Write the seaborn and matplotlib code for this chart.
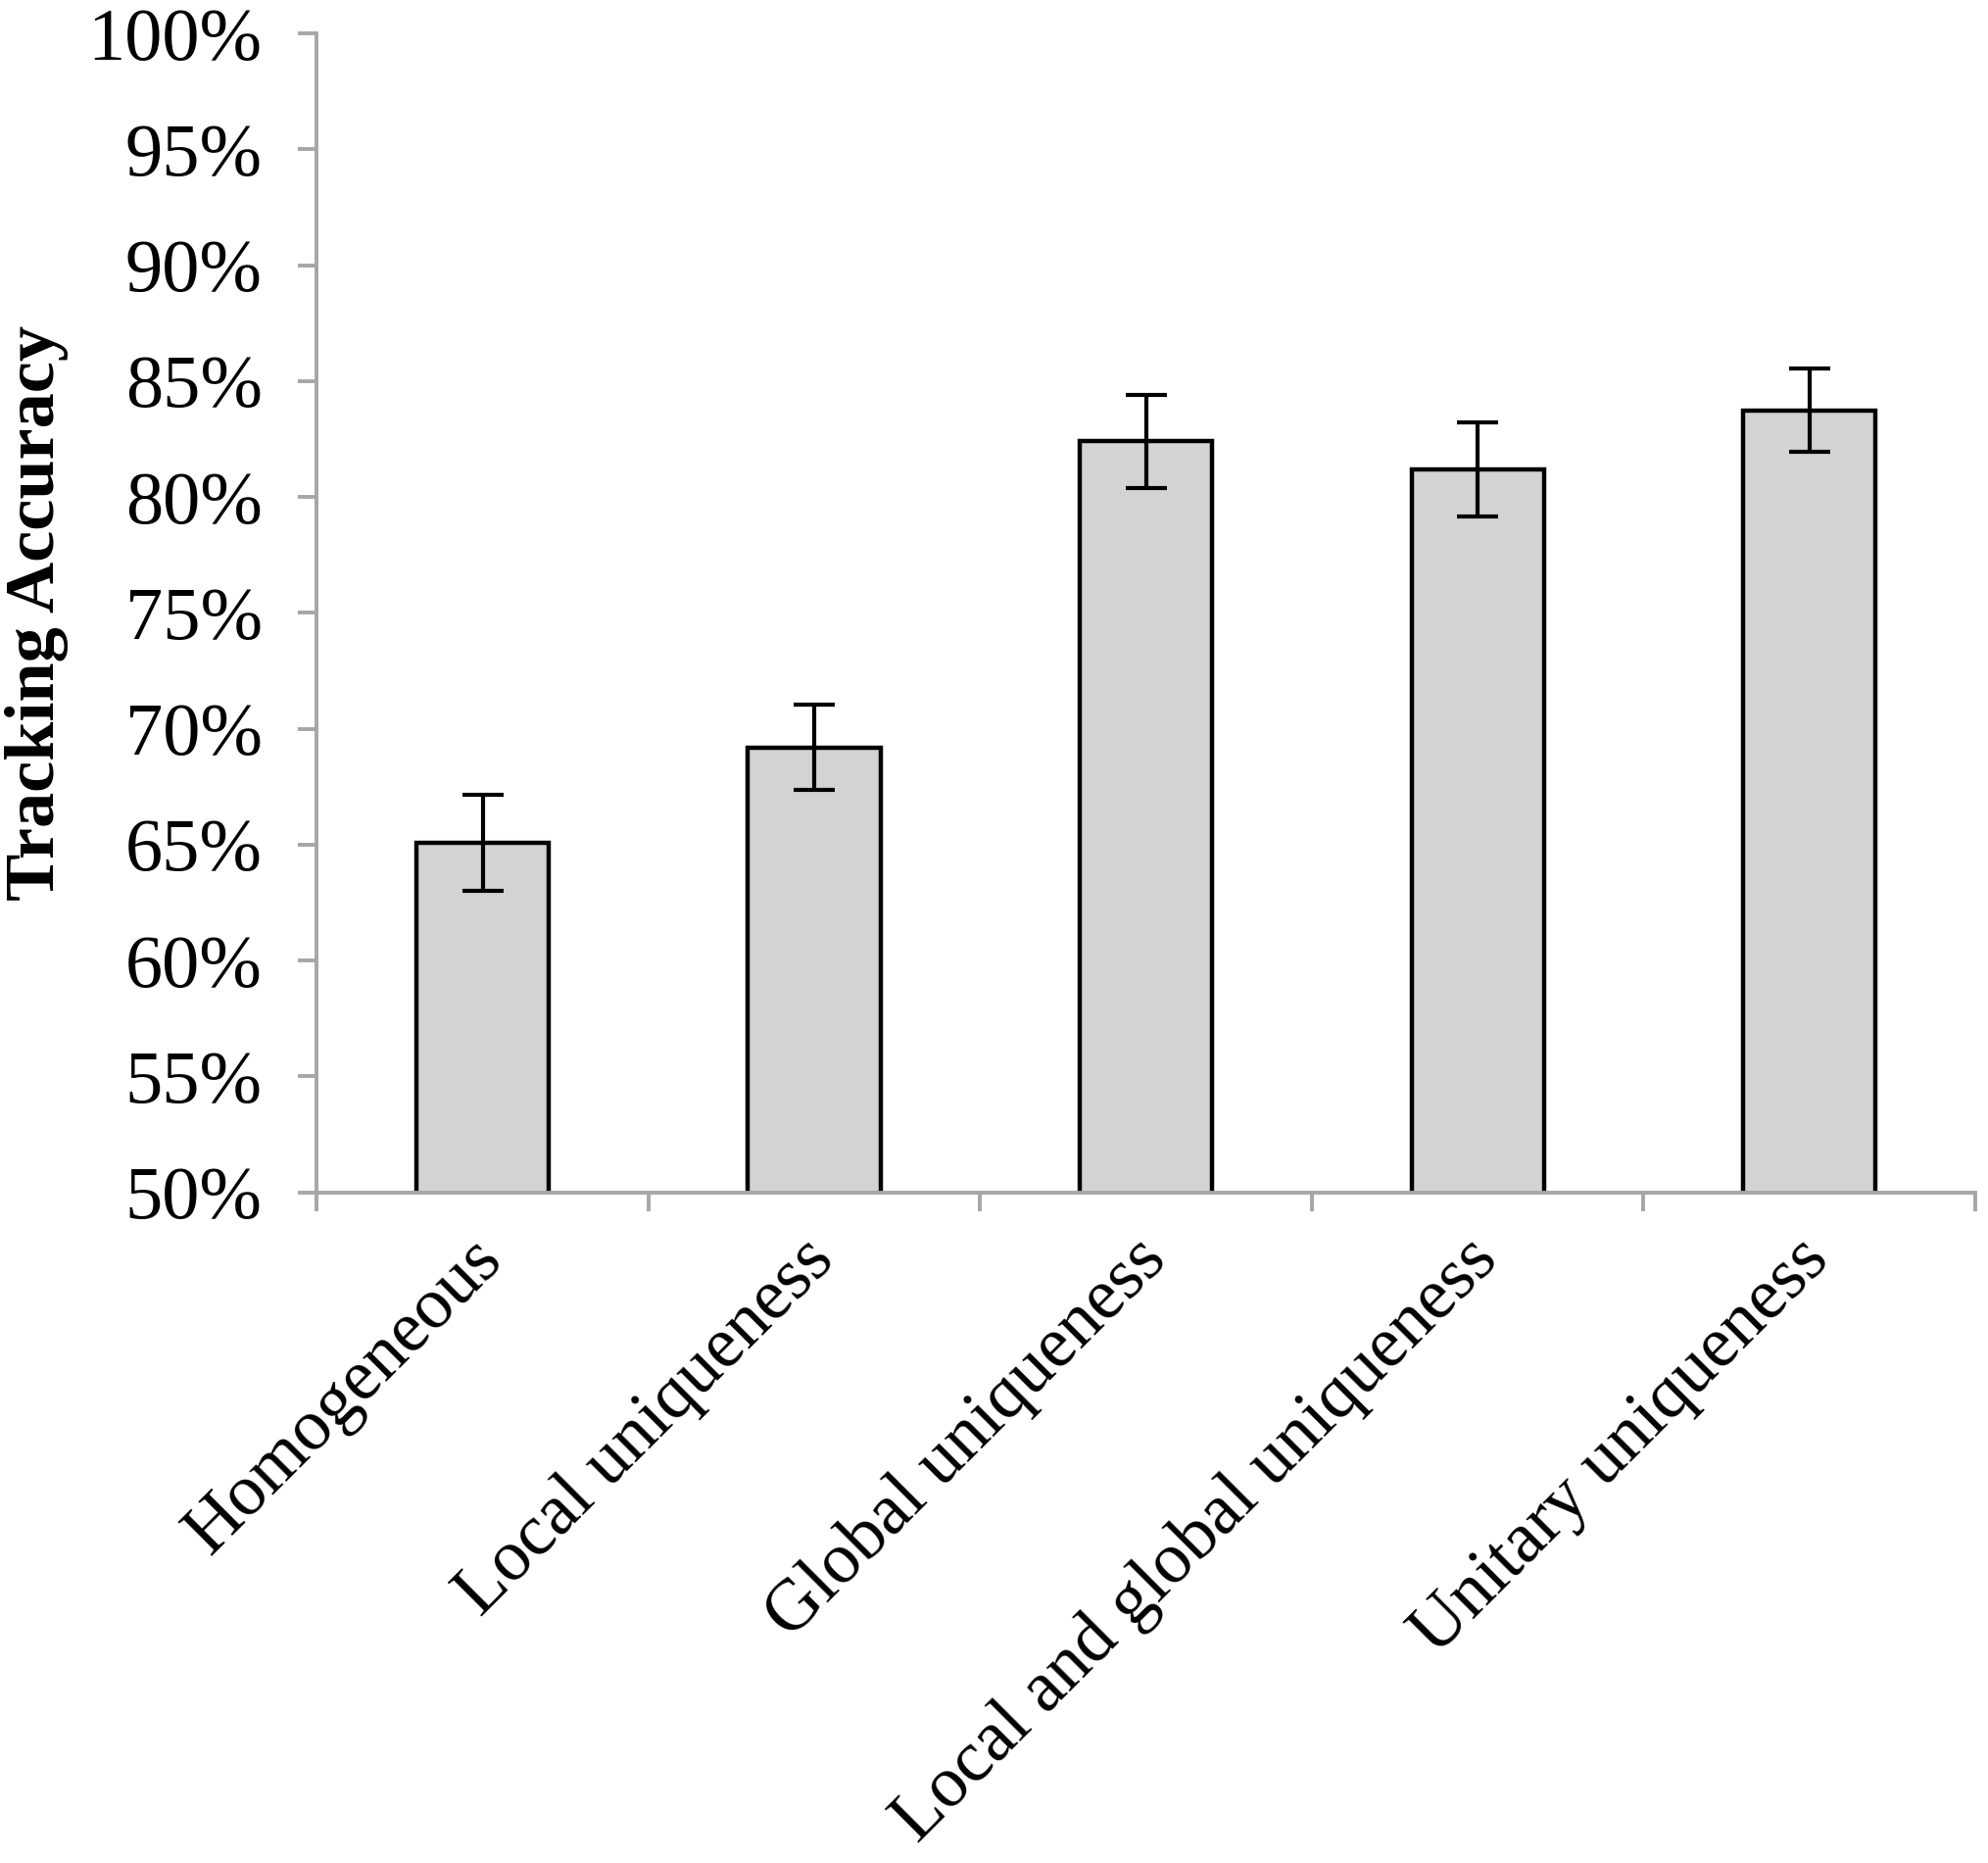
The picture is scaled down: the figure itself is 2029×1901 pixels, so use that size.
import matplotlib

matplotlib.use("Agg")
import matplotlib.pyplot as plt
from matplotlib.ticker import FuncFormatter, MultipleLocator
from matplotlib.transforms import ScaledTranslation
import pandas as pd
import seaborn as sns

conditions = [
    "Homogeneous",
    "Local uniqueness",
    "Global uniqueness",
    "Local and global uniqueness",
    "Unitary uniqueness",
]
accuracy = [65.1, 69.2, 82.4, 81.2, 83.75]
error = [2.07, 1.85, 2.02, 2.02, 1.79]

df = pd.DataFrame({"condition": conditions, "accuracy": accuracy, "error": error})

sns.set_style("white")
plt.rcParams["font.family"] = ["Liberation Serif", "DejaVu Serif"]
plt.rcParams["text.color"] = "black"
plt.rcParams["xtick.labelcolor"] = "black"
plt.rcParams["ytick.labelcolor"] = "black"
plt.rcParams["axes.labelcolor"] = "black"

fig = plt.figure(figsize=(20.29, 19.01), dpi=100)
ax = fig.add_axes([0.1594, 0.360, 0.8342, 0.622])

sns.barplot(
    data=df,
    x="condition",
    y="accuracy",
    color="#D3D3D3",
    saturation=1,
    width=0.4,
    edgecolor="black",
    linewidth=3.2,
    errorbar=None,
    ax=ax,
)
ax.errorbar(
    range(len(df)),
    df["accuracy"],
    yerr=df["error"],
    fmt="none",
    ecolor="black",
    elinewidth=3.0,
    capsize=15,
    capthick=3.0,
)

ax.set_ylim(50, 100)
ax.set_xlim(-0.5, len(df) - 0.5)
ax.yaxis.set_major_locator(MultipleLocator(5))
ax.yaxis.set_major_formatter(FuncFormatter(lambda v, _: f"{v:.0f}%"))

spine_color = "#A6A6A6"
for side in ["top", "right"]:
    ax.spines[side].set_visible(False)
for side in ["left", "bottom"]:
    ax.spines[side].set_color(spine_color)
    ax.spines[side].set_linewidth(2.8)

ax.tick_params(axis="y", direction="out", length=14, width=2.8, color=spine_color,
               pad=26, labelsize=55, left=True)
ax.set_xticks([i - 0.5 for i in range(len(df) + 1)], minor=True)
ax.tick_params(axis="x", which="minor", direction="out", length=14, width=2.8,
               color=spine_color, bottom=True)
ax.tick_params(axis="x", which="major", length=0, pad=42, labelsize=53)
shift = ScaledTranslation(0.1, 0, fig.dpi_scale_trans)
for lbl in ax.get_xticklabels():
    lbl.set_rotation(45)
    lbl.set_ha("right")
    lbl.set_va("center")
    lbl.set_rotation_mode("anchor")
    lbl.set_transform(lbl.get_transform() + shift)

ax.set_xlabel("")
ax.set_ylabel("Tracking Accuracy", fontsize=52, fontweight="bold")
ax.yaxis.set_label_coords(-0.150, 0.5)

fig.savefig("out.png", dpi=100)
plt.close(fig)
